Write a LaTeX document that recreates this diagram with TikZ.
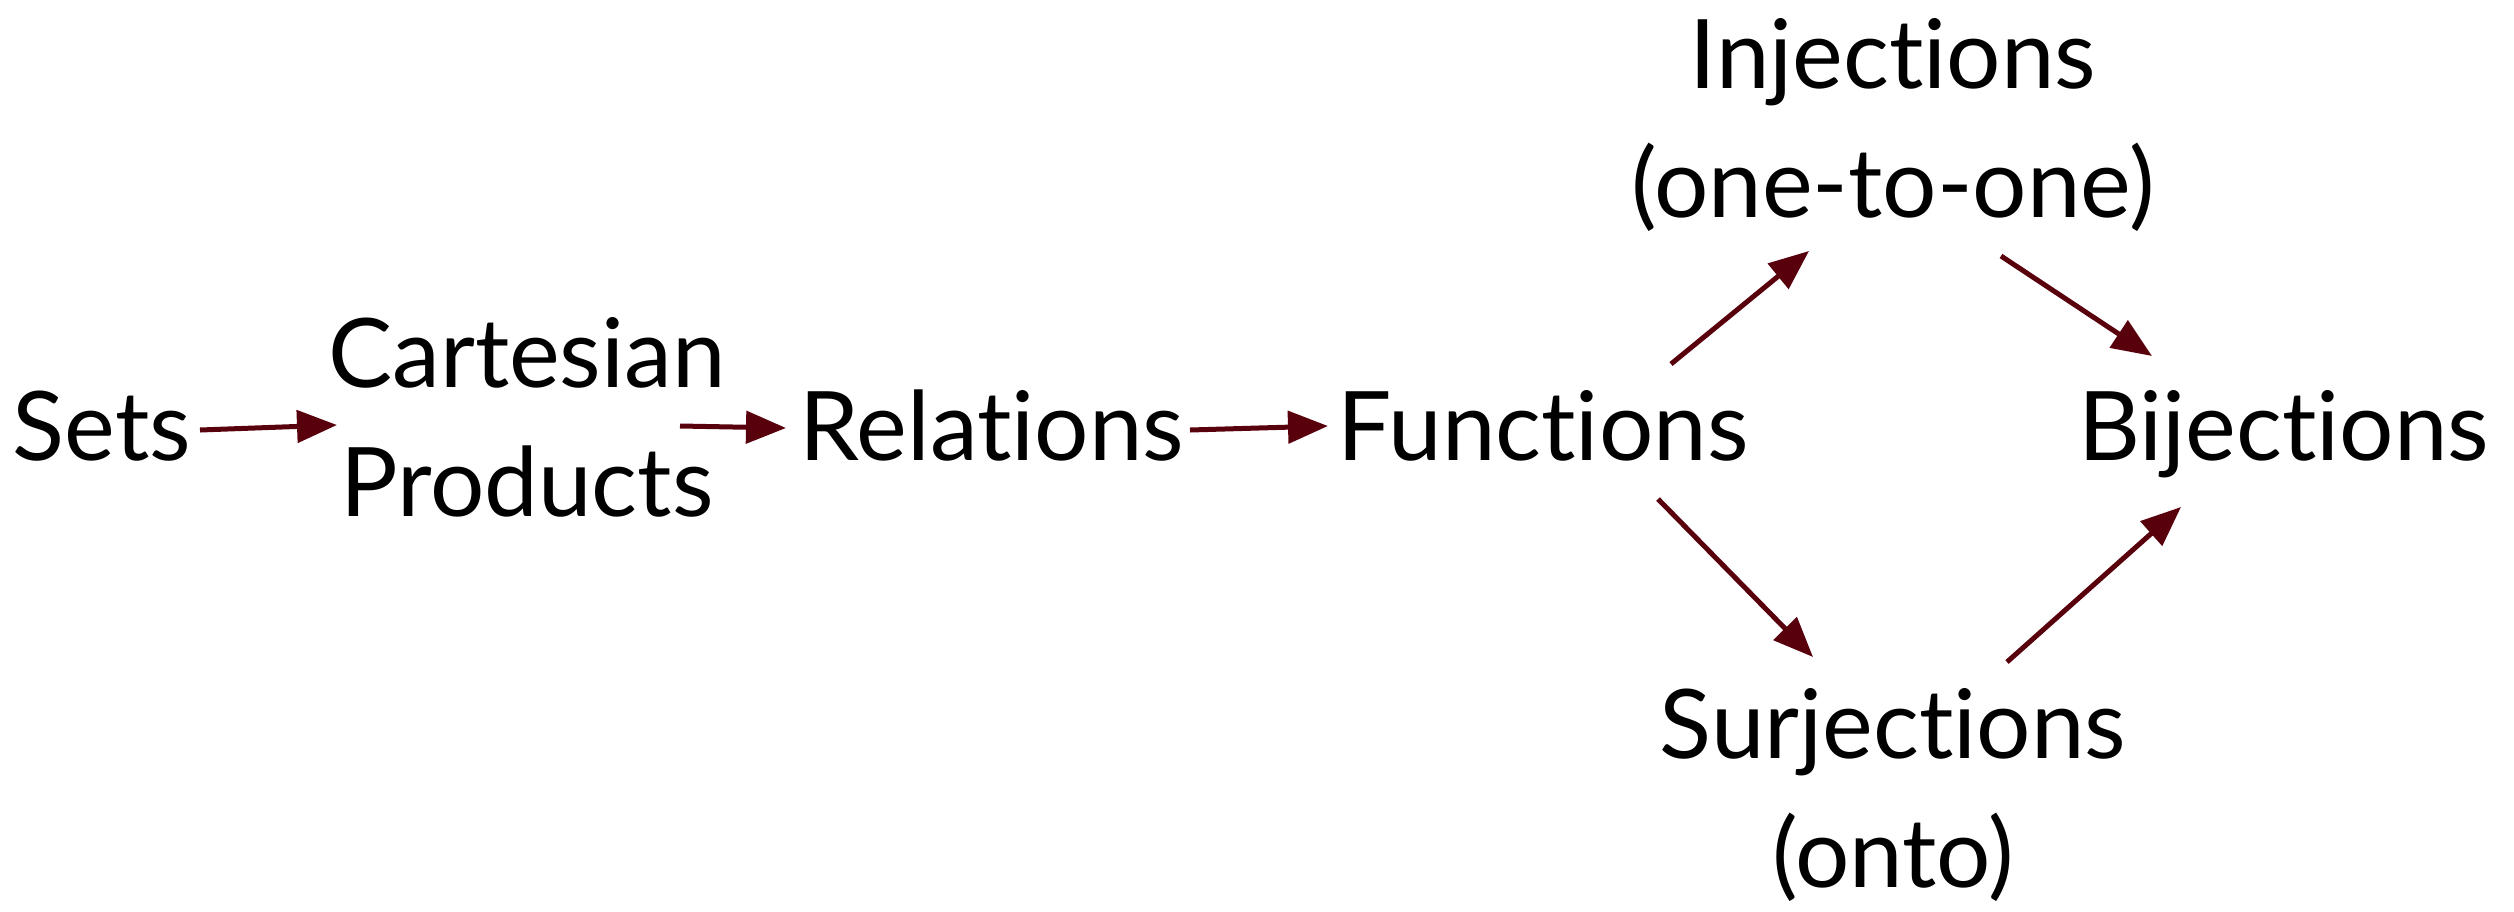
\documentclass[tikz,border=0pt]{standalone}
\usepackage{fontspec}
\setmainfont{Lato}[RawFeature={-liga;-dlig;-clig}]
\usetikzlibrary{arrows.meta,calc}
\definecolor{arrowred}{RGB}{88,0,12}
\tikzset{
  lbl/.style={inner sep=0pt, outer sep=0pt, font=\fontsize{96}{129}\selectfont},
  link/.style={draw=arrowred, line width=5pt,
    -{Triangle[length=40pt,width=32pt,fill=arrowred]}}
}
\begin{document}
\begin{tikzpicture}[x=1pt,y=-1pt]
  \useasboundingbox (0,0) rectangle (2514,911);
  % concepts
  \node[lbl, anchor=base] (sets) at (102,460) {Sets};
  \node[lbl, align=center] (cart) at (527,417) {Cartesian\\Products};
  \node[lbl, anchor=base] (rel) at (992,460) {Relations};
  \node[lbl, anchor=base] (func) at (1543,460) {Functions};
  \node[lbl, align=center] (inj) at (1893,125) {Injections\\(one-to-one)};
  \node[lbl, align=center] (surj) at (1893,795) {Surjections\\(onto)};
  \node[lbl, anchor=base] (bij) at (2284,460) {Bijections};
  % links
  \draw[link] ($(sets.base)+(98,-30)$) -- ($(cart.center)+(-190,8)$);
  \draw[link] ($(cart.center)+(153,9)$) -- ($(rel.base)+(-206,-32)$);
  \draw[link] ($(rel.base)+(198,-30)$) -- ($(func.base)+(-215,-34)$);
  \draw[link] ($(func.base)+(128,-96)$) -- ($(inj.center)+(-84,126)$);
  \draw[link] ($(inj.center)+(108,131)$) -- ($(bij.base)+(-132,-104)$);
  \draw[link] ($(func.base)+(115,39)$) -- ($(surj.center)+(-80,-138)$);
  \draw[link] ($(surj.center)+(114,-133)$) -- ($(bij.base)+(-103,47)$);
\end{tikzpicture}
\end{document}
